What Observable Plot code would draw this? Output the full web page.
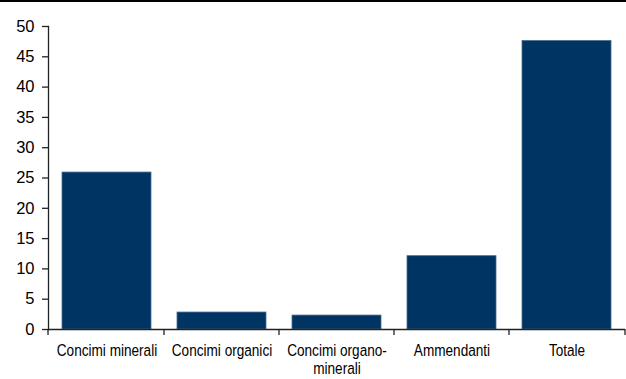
<!DOCTYPE html>
<html>
<head>
<meta charset="utf-8">
<script src="https://cdn.jsdelivr.net/npm/d3@7"></script>
<script src="https://cdn.jsdelivr.net/npm/@observablehq/plot@0.6"></script>
<style>
  html, body { margin: 0; padding: 0; background: #fff; }
  #chart { width: 626px; border-top: 2px solid #000; }
  #chart svg { display: block; }
</style>
</head>
<body>
<div id="chart"></div>
<script>
// Categories and values (thousand tonnes)
const categories = ["Concimi minerali", "Concimi organici", "Concimi organo-minerali", "Ammendanti", "Totale"];
const values = [25.9, 2.8, 2.3, 12.1, 47.6];
const xTickLabels = ["Concimi minerali", "Concimi organici", "Concimi organo-\nminerali", "Ammendanti", "Totale"];
const yTicks = [0, 5, 10, 15, 20, 25, 30, 35, 40, 45, 50];

const data = categories.map((category, i) => ({category, value: values[i]}));
const labelOf = new Map(categories.map((c, i) => [c, xTickLabels[i]]));

// Short tick marks on the category boundaries below the x axis line
function boundaryTicks(index, scales, values, dimensions) {
  const x = scales.x;
  const bw = x.bandwidth ? x.bandwidth() : 0;
  const y0 = dimensions.height - dimensions.marginBottom;
  const xs = [dimensions.marginLeft];
  for (let i = 0; i < categories.length - 1; i++) {
    xs.push((x(categories[i]) + bw + x(categories[i + 1])) / 2);
  }
  xs.push(dimensions.width - dimensions.marginRight);
  const g = d3.create("svg:g").attr("stroke", "#222").attr("stroke-width", 1.3);
  for (const v of xs) {
    g.append("line").attr("x1", v).attr("x2", v).attr("y1", y0).attr("y2", y0 + 6);
  }
  return g.node();
}

const chart = Plot.plot({
  width: 626,
  height: 377,
  marginLeft: 48,
  marginRight: 1,
  marginTop: 24,
  marginBottom: 50,
  style: {fontFamily: "'Liberation Sans', Arial, sans-serif", color: "#000"},
  x: {domain: categories, paddingInner: 0.23, paddingOuter: 0.115, label: null},
  y: {domain: [0, 50], label: null},
  marks: [
    Plot.barY(data, {x: "category", y: "value", fill: "#003462", stroke: "#4a6b92", strokeWidth: 0.8}),
    Plot.axisY({ticks: yTicks, tickSize: 6, tickPadding: 8, fontSize: 16.5, stroke: "#222", strokeWidth: 1.3}),
    Plot.axisX({
      className: "xlabels",
      tickSize: 0,
      tickPadding: 13,
      fontSize: 17,
      lineHeight: 1.1,
      tickFormat: d => labelOf.get(d)
    }),
    Plot.frame({anchor: "left", stroke: "#222", strokeWidth: 1.3}),
    Plot.ruleY([0], {stroke: "#222", strokeWidth: 1.3}),
    boundaryTicks
  ]
});

// Narrow the category labels horizontally around their anchor
chart.querySelectorAll(".xlabels text").forEach(t => {
  const tr = t.getAttribute("transform") || "";
  t.setAttribute("transform", `${tr} scale(0.8,1)`);
});

document.getElementById("chart").append(chart);
</script>
</body>
</html>
